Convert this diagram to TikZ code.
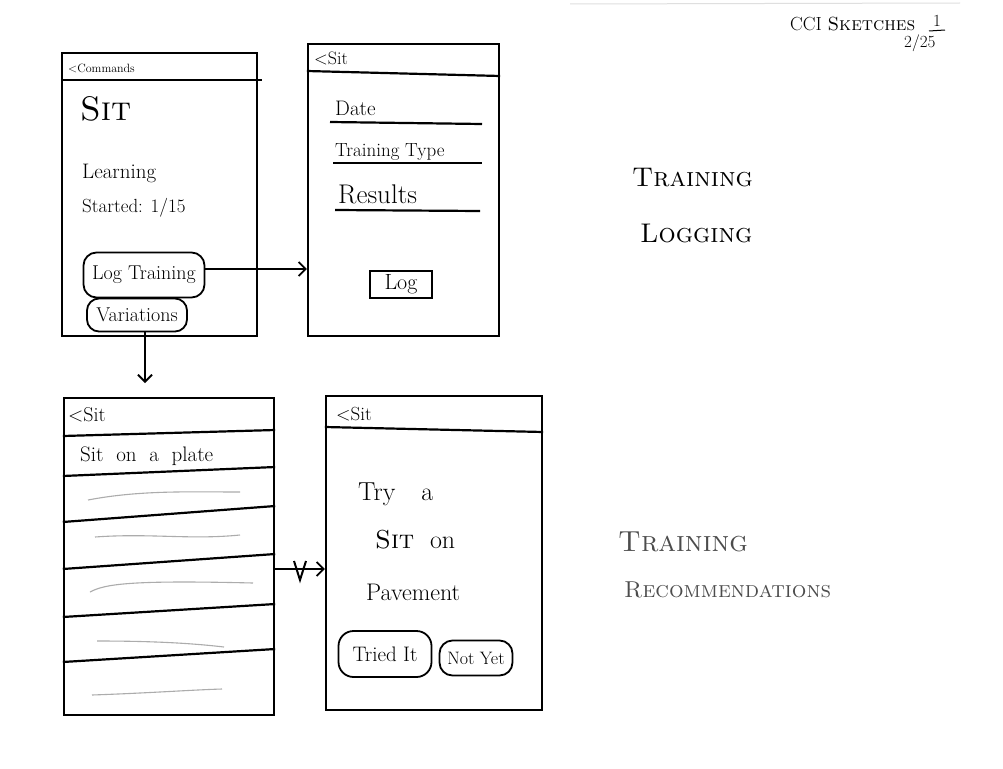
\documentclass[tikz,border=0pt]{standalone}
\usetikzlibrary{arrows.meta}
\newcommand{\fs}[1]{\fontsize{#1}{#1}\selectfont}
\begin{document}
\begin{tikzpicture}[x=1pt,y=-1pt,
  screen/.style={draw, line width=2.4pt, inner sep=0pt},
  bar/.style={line width=2.2pt},
  btn/.style={draw, line width=1.8pt, rounded corners=13pt, inner sep=0pt},
  boxbtn/.style={draw, line width=2pt, inner sep=0pt},
  conn/.style={line width=1.8pt, -{Straight Barb[length=7pt,width=14pt]}},
  scribble/.style={gray!65, line width=1.1pt},
  txt/.style={anchor=base west, inner sep=0pt},
  title/.style={anchor=base west, inner sep=0pt, font=\fs{27}},
]
\useasboundingbox[fill=white] (0,0) rectangle (1003,768);

% paper edge at the top
\draw[gray!25, line width=1pt] (570,4) -- (960,3);

% sheet heading
\node[txt, font=\fs{19}] (head) at (790,31) {CCI \textsc{Sketches}};
\node[txt, font=\fs{17}] (pagenum) at (933,27) {1};
\draw[line width=1pt] (929,31) -- (945,30);
\node[txt, font=\fs{17}] (date) at (904,48) {2/25};

% ---------- screen 1: command overview ----------
\node[screen, minimum width=195pt, minimum height=283pt] (scr1) at (159.5,194.5) {};
\draw[bar] (scr1.west |- 0,80) -- (262,80);
\node[txt, font=\fs{12}] (s1back) at (68,73) {<Commands};
\node[txt, font=\fs{34}] (s1title) at (80,120) {\textsc{Sit}};
\node[txt, font=\fs{21}] (s1learn) at (82,178) {Learning};
\node[txt, font=\fs{19}] (s1start) at (82,212) {Started: 1/15};
\node[btn, minimum width=121pt, minimum height=45pt, font=\fs{20}] (logbtn) at (144,275) {Log Training};
\node[btn, minimum width=100pt, minimum height=33pt, rounded corners=12pt, font=\fs{20}] (varbtn) at (137,315) {Variations};

% ---------- screen 2: log form ----------
\node[screen, minimum width=191pt, minimum height=292pt] (scr2) at (403.5,190) {};
\draw[bar] (scr2.west |- 0,71) -- (scr2.east |- 0,76);
\node[txt, font=\fs{18}] (s2back) at (314,64) {<Sit};
\node[txt, font=\fs{21}] (fdate) at (335,115) {Date};
\draw[bar] (330,122) -- (482,124);
\node[txt, font=\fs{19}] (ftype) at (335,156) {Training Type};
\draw[bar] (333,163) -- (482,163);
\node[txt, font=\fs{27}] (fres) at (338,203) {Results};
\draw[bar] (335,210) -- (480,211);
\node[boxbtn, minimum width=62pt, minimum height=27pt, font=\fs{22}] (logbox) at (401,284) {Log};

% ---------- screen 3: variations list ----------
\node[screen, minimum width=210pt, minimum height=317pt] (scr3) at (169,556.5) {};
\draw[bar] (scr3.west |- 0,436) -- (scr3.east |- 0,430);
\draw[bar] (scr3.west |- 0,476) -- (scr3.east |- 0,467);
\draw[bar] (scr3.west |- 0,522) -- (scr3.east |- 0,506);
\draw[bar] (scr3.west |- 0,569) -- (scr3.east |- 0,554);
\draw[bar] (scr3.west |- 0,617) -- (scr3.east |- 0,604);
\draw[bar] (scr3.west |- 0,662) -- (scr3.east |- 0,649);
\node[txt, font=\fs{20}] (s3back) at (68,421) {<Sit};
\node[txt, font=\fs{21}] (s3row) at (80,461) {Sit\ \ on\ \ a\ \ plate};
\draw[scribble] (88,500) .. controls (140,490) and (190,492) .. (240,492);
\draw[scribble] (95,537) .. controls (150,533) and (190,540) .. (240,535);
\draw[scribble] (90,592) .. controls (105,584) and (130,580) .. (253,583);
\draw[scribble] (97,641) .. controls (150,641) and (190,643) .. (224,647);
\draw[scribble] (92,695) .. controls (150,693) and (190,690) .. (222,689);

% ---------- screen 4: recommendation ----------
\node[screen, minimum width=216pt, minimum height=314pt] (scr4) at (434,553) {};
\draw[bar] (scr4.west |- 0,427) -- (scr4.east |- 0,432);
\node[txt, font=\fs{19}] (s4back) at (336,420) {<Sit};
\node[txt, font=\fs{26}] (s4l1) at (358,500) {Try\quad a};
\node[txt, font=\fs{26}] (s4l2) at (375,548) {\textsc{Sit}\ \ on};
\node[txt, font=\fs{24}] (s4l3) at (366,600) {Pavement};
\node[btn, minimum width=93pt, minimum height=46pt, rounded corners=15pt, font=\fs{21}] (triedbtn) at (385,654) {Tried It};
\node[btn, minimum width=73pt, minimum height=35pt, rounded corners=13pt, font=\fs{18}] (notbtn) at (476,658) {Not Yet};

% ---------- flow between screens ----------
\draw[conn] ([yshift=6pt]logbtn.east) -- ([yshift=6pt]logbtn.east -| scr2.west);
\coordinate (varend) at (145,383);
\draw[conn] (varbtn.south -| varend) -- (varend);
\coordinate (recrow) at (0,569);
\draw[conn] (scr3.east |- recrow) -- (scr4.west |- recrow);
\draw[line width=2pt] (294,561) -- (300,580) -- (306,561);

% ---------- section labels ----------
\node[title] (lab1a) at (632,186) {\textsc{Training}};
\node[title] (lab1b) at (640,242) {\textsc{Logging}};
\node[title, text=black!70, font=\fs{29}] (lab2a) at (618,551) {\textsc{Training}};
\node[title, text=black!70, font=\fs{23}] (lab2b) at (624,597) {\textsc{Recommendations}};
\end{tikzpicture}
\end{document}
